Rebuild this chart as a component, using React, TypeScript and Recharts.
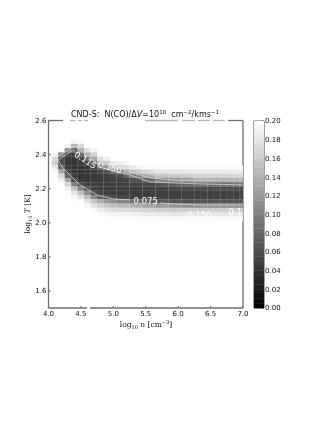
import {
  ReferenceLine,
  Scatter,
  ScatterChart,
  XAxis,
  YAxis,
} from "recharts";

const MAX_VALUE = 0.2;

const xTicks = [4, 4.5, 5, 5.5, 6, 6.5, 7];
const yTicks = [1.6, 1.8, 2.0, 2.2, 2.4, 2.6];
const barTicks = [0, 0.02, 0.04, 0.06, 0.08, 0.1, 0.12, 0.14, 0.16, 0.18, 0.2];

// log10 T of each grid row, top to bottom
const gridT = [
  2.475, 2.45, 2.425, 2.4, 2.375, 2.35, 2.325, 2.3, 2.275, 2.25, 2.225, 2.2,
  2.175, 2.15, 2.125, 2.1, 2.075, 2.05, 2.025, 2.0,
];
// log10 n of each grid column
const gridN = [
  4.1, 4.2, 4.3, 4.4, 4.5, 4.6, 4.7, 4.8, 4.9, 5.0, 5.1, 5.2, 5.3, 5.4, 5.5,
  5.6, 5.7, 5.8, 5.9, 6.0, 6.1, 6.2, 6.3, 6.4, 6.5, 6.6, 6.7, 6.8, 6.9, 7.0,
];
// one line per column, in units of 0.01, 20 is the white top of the scale
const gridValues = [
  [20, 20, 20, 19, 17, 16, 18.5, 19.5, 20, 20, 20, 20, 20, 20, 20, 20, 20, 20, 20, 20],
  [20, 20, 19.5, 10, 6, 6, 8, 13, 17, 19, 20, 20, 20, 20, 20, 20, 20, 20, 20, 20],
  [20, 19, 11, 5.5, 4.5, 4.5, 4.5, 5.5, 8, 13, 16.5, 19, 19.8, 20, 20, 20, 20, 20, 20, 20],
  [19, 14, 8, 5, 4, 4, 4, 4.2, 5, 6, 10, 15, 18, 19.5, 20, 20, 20, 20, 20, 20],
  [19.5, 17, 13, 8.5, 5.5, 4.5, 4, 4, 4, 4.5, 6, 10.5, 15, 18, 19.5, 20, 20, 20, 20, 20],
  [20, 19.8, 17.5, 14, 9, 5.5, 4.5, 4.2, 4.2, 4.2, 4.8, 6.5, 11, 15, 18, 19.5, 20, 20, 20, 20],
  [20, 20, 19, 16.5, 13, 8, 5.5, 4.6, 4.4, 4.4, 4.6, 5, 7, 11, 15.5, 18, 19.5, 20, 20, 20],
  [20, 20, 20, 19.5, 17.5, 14, 8.5, 5.5, 4.8, 4.6, 4.6, 4.8, 5.5, 8, 13.5, 16.5, 18.5, 19.6, 20, 20],
  [20, 20, 20, 20, 18.5, 16, 12, 6.5, 5, 4.8, 4.6, 4.7, 5, 6.8, 12, 15.5, 18, 19.3, 20, 20],
  [20, 20, 20, 20, 20, 18.5, 15.5, 9, 5.5, 5, 4.7, 4.7, 4.9, 6, 11, 15, 17.5, 19, 19.8, 20],
  [20, 20, 20, 20, 20, 19, 16.5, 11, 6.2, 5, 4.8, 4.8, 4.8, 5.5, 10, 14.5, 17.5, 19, 19.8, 20],
  [20, 20, 20, 20, 20, 19.5, 17.5, 13, 8, 5.5, 5, 4.8, 4.8, 5.5, 10, 14.5, 17.5, 19, 19.8, 20],
  [20, 20, 20, 20, 20, 20, 18.5, 15, 10, 6.3, 5.2, 4.8, 4.8, 5.2, 9, 14, 17.2, 18.8, 19.7, 20],
  [20, 20, 20, 20, 20, 20, 19, 16, 11, 6.5, 5.4, 4.9, 4.8, 5.1, 8.5, 13.5, 17, 18.7, 19.7, 20],
  [20, 20, 20, 20, 20, 20, 19.5, 17, 13, 8, 5.6, 5, 4.8, 5, 7.5, 13, 16.5, 18.5, 19.6, 20],
  [20, 20, 20, 20, 20, 20, 19.6, 17.3, 13.5, 8.5, 5.8, 5.2, 5, 5.1, 7.8, 13, 16.5, 18.5, 19.6, 20],
  [20, 20, 20, 20, 20, 20, 19.8, 18, 15, 10.5, 6.5, 5.2, 5, 5, 7, 12, 16, 18.2, 19.5, 20],
  [20, 20, 20, 20, 20, 20, 19.8, 18, 15, 10.5, 6.8, 5.4, 5.1, 5.1, 7.2, 12.2, 16.2, 18.3, 19.5, 20],
  [20, 20, 20, 20, 20, 20, 19.8, 18.2, 15.5, 11, 7, 5.5, 5, 5, 6.8, 11.8, 16, 18.2, 19.5, 20],
  [20, 20, 20, 20, 20, 20, 19.8, 18.2, 15.5, 11.5, 7.5, 5.5, 4.9, 5, 6.8, 11.5, 16, 18, 19.5, 20],
  [20, 20, 20, 20, 20, 20, 19.8, 18.3, 16, 12, 8, 5.7, 5, 5, 6.5, 11.2, 16, 18.1, 19.5, 20],
  [20, 20, 20, 20, 20, 20, 19.8, 18.4, 16.2, 12.5, 8.5, 5.8, 5.1, 5.1, 6.6, 11, 16, 18, 19.5, 20],
  [20, 20, 20, 20, 20, 20, 19.8, 18.5, 16.5, 13.5, 8.5, 5.8, 5, 5, 6.5, 11, 16, 18, 19.5, 20],
  [20, 20, 20, 20, 20, 20, 19.8, 18.5, 16.5, 13.5, 8.8, 6, 5.2, 5.1, 6.7, 11.2, 16, 18.1, 19.5, 20],
  [20, 20, 20, 20, 20, 20, 19.8, 18.5, 16.5, 13.5, 8.5, 5.8, 5, 5, 6.5, 11, 16, 18, 19.5, 20],
  [20, 20, 20, 20, 20, 20, 19.8, 18.6, 16.6, 13.5, 8.8, 6, 5.2, 5.2, 6.8, 11.2, 16, 18.1, 19.5, 20],
  [20, 20, 20, 20, 20, 20, 19.8, 18.6, 16.6, 13.5, 8.5, 5.8, 5, 5, 6.5, 11, 16, 18, 19.5, 20],
  [20, 20, 20, 20, 20, 20, 19.8, 18.6, 16.8, 13.5, 8.8, 6, 5.3, 5.2, 6.6, 11.2, 16, 18, 19.5, 20],
  [20, 20, 20, 20, 20, 20, 19.8, 18.6, 16.8, 13.5, 9, 6, 5.2, 5.2, 6.6, 11, 16, 18, 19.5, 20],
  [20, 20, 20, 20, 20, 20, 19.8, 18.7, 17, 14, 9.5, 6.2, 5.5, 5.5, 6.8, 11, 16, 18, 19.5, 20],
];

// contours as [log n, log T] runs, split where a label sits on them
const innerLower = [
  [4.147, 2.368], [4.224, 2.321], [4.363, 2.268], [4.486, 2.222], [4.748, 2.163],
  [4.995, 2.14], [5.257, 2.134],
];
const innerLowerRight = [
  [5.72, 2.116], [5.95, 2.11], [6.34, 2.104], [7.0, 2.104],
];
const innerUpperLeft = [[4.147, 2.368], [4.378, 2.427], [4.42, 2.41]];
const innerUpperRight = [
  [4.75, 2.33], [4.841, 2.321], [5.257, 2.28], [5.566, 2.239], [6.34, 2.228], [7.0, 2.222],
];
const outerLower = [
  [4.07, 2.351], [4.286, 2.228], [4.594, 2.128], [4.995, 2.075], [5.52, 2.063],
  [6.0, 2.066], [6.75, 2.063],
];
const outerUpperLeft = [
  [4.07, 2.351], [4.11, 2.38], [4.378, 2.444], [4.41, 2.45], [4.748, 2.351], [4.8, 2.335],
];
const outerUpperRight = [
  [5.15, 2.31], [5.257, 2.298], [5.566, 2.263], [6.0, 2.25], [7.0, 2.251],
];
const topUpper = [[5.3, 2.31], [5.566, 2.28], [6.0, 2.28], [7.0, 2.28]];
const contourRuns = [
  innerLower,
  innerLowerRight,
  innerUpperLeft,
  innerUpperRight,
  outerLower,
  outerUpperLeft,
  outerUpperRight,
  topUpper,
];

const labelText = ["0.115", "0.150", "0.075", "0.1", "0.150"];
const labelN = [4.57, 4.95, 5.5, 6.88, 6.33];
const labelT = [2.368, 2.325, 2.13, 2.063, 2.045];
const labelAngle = [33, 15, 0, 0, 0];

// pieces of the top and bottom frame that the white label boxes left standing
const topRunFrom = [4, 4.33, 4.455, 4.548, 5.489, 6.06, 6.306, 6.537, 6.77];
const topRunTo = [4.224, 4.42, 4.517, 4.609, 5.997, 6.26, 6.49, 6.72, 7];
const bottomRunFrom = [4, 4.64];
const bottomRunTo = [4.594, 7];

const barLevels = [
  0, 0.005, 0.01, 0.015, 0.02, 0.025, 0.03, 0.035, 0.04, 0.045, 0.05, 0.055,
  0.06, 0.065, 0.07, 0.075, 0.08, 0.085, 0.09, 0.095, 0.1, 0.105, 0.11, 0.115,
  0.12, 0.125, 0.13, 0.135, 0.14, 0.145, 0.15, 0.155, 0.16, 0.165, 0.17, 0.175,
  0.18, 0.185, 0.19, 0.195,
];

const heatCells = gridN.flatMap((n, col) =>
  gridT
    .map((T, row) => ({ n, T, value: gridValues[col][row] / 100 }))
    .filter((cell) => cell.value < MAX_VALUE),
);
const labelPoints = labelText.map((text, i) => ({
  n: labelN[i],
  T: labelT[i],
  text,
  angle: labelAngle[i],
}));
const barCells = barLevels.map((level) => ({
  x: 0,
  level: level + 0.0025,
  value: level + 0.0025,
}));

const FRAME = "#6e6e6e";
const FONT = "'DejaVu Sans', sans-serif";
const MATH_FONT = "'DejaVu Serif', serif";

function gray(value: number) {
  const g = Math.round((Math.min(value, MAX_VALUE) / MAX_VALUE) * 255);
  return `rgb(${g},${g},${g})`;
}

function HeatCell({ cx, cy, payload }: any) {
  return (
    <rect
      x={cx - 3.3}
      y={cy - 2.2}
      width={6.6}
      height={4.4}
      fill={gray(payload.value)}
    />
  );
}

function BarCell({ cx, cy, payload }: any) {
  return (
    <rect
      x={cx - 5}
      y={cy - 2.5}
      width={10}
      height={5}
      fill={gray(payload.value)}
    />
  );
}

function ContourLabel({ cx, cy, payload }: any) {
  return (
    <text
      x={cx}
      y={cy}
      transform={`rotate(${payload.angle} ${cx} ${cy})`}
      textAnchor="middle"
      dominantBaseline="central"
      fontFamily={FONT}
      fontSize={8.5}
      fill="#ffffff"
    >
      {payload.text}
    </text>
  );
}

const noMark = () => <g />;

export default function App() {
  const tickStyle = { fontSize: 7, fontFamily: FONT, fill: "#111" };
  return (
    <div
      style={{
        position: "absolute",
        left: 0,
        top: 0,
        width: 332,
        height: 430,
        background: "#fff",
        filter: "blur(0.3px)",
      }}
    >
      <div style={{ position: "absolute", left: 0, top: 0 }}>
        <ScatterChart
          width={332}
          height={430}
          margin={{ left: 47.5, right: 88, top: 119.5, bottom: 121 }}
        >
          <XAxis
            xAxisId="bottom"
            type="number"
            dataKey="n"
            domain={[4, 7]}
            ticks={xTicks}
            tickFormatter={(v) => v.toFixed(1)}
            height={1}
            tick={tickStyle}
            tickSize={-2}
            tickMargin={5}
            axisLine={false}
            stroke={FRAME}
            allowDataOverflow
          />
          <XAxis
            xAxisId="top"
            orientation="top"
            type="number"
            dataKey="n"
            domain={[4, 7]}
            ticks={xTicks}
            height={1}
            tick={false}
            tickSize={-2}
            axisLine={false}
            stroke={FRAME}
          />
          <YAxis
            yAxisId="left"
            type="number"
            dataKey="T"
            domain={[1.5, 2.6]}
            ticks={yTicks}
            tickFormatter={(v) => v.toFixed(1)}
            width={1}
            tick={tickStyle}
            tickSize={-2}
            tickMargin={4}
            stroke={FRAME}
            strokeWidth={1.3}
            allowDataOverflow
          />
          <YAxis
            yAxisId="right"
            orientation="right"
            type="number"
            dataKey="T"
            domain={[1.5, 2.6]}
            ticks={yTicks}
            width={1}
            tick={false}
            tickSize={-2}
            stroke={FRAME}
            strokeWidth={1.3}
          />
          <Scatter
            xAxisId="bottom"
            yAxisId="left"
            data={heatCells}
            shape={HeatCell}
            isAnimationActive={false}
          />
          {contourRuns.map((run, i) => (
            <Scatter
              key={i}
              xAxisId="bottom"
              yAxisId="left"
              data={run.map(([n, T]) => ({ n, T }))}
              line={{ stroke: "#d4d4d4", strokeWidth: 0.8 }}
              shape={noMark}
              isAnimationActive={false}
            />
          ))}
          <Scatter
            xAxisId="bottom"
            yAxisId="left"
            data={labelPoints}
            shape={ContourLabel}
            isAnimationActive={false}
          />
          {topRunFrom.map((from, i) => (
            <ReferenceLine
              key={`top${i}`}
              xAxisId="bottom"
              yAxisId="left"
              segment={[
                { x: from, y: 2.6 },
                { x: topRunTo[i], y: 2.6 },
              ]}
              stroke={FRAME}
              strokeWidth={1.3}
              strokeOpacity={i === 0 || i === topRunFrom.length - 1 ? 1 : 0.5}
            />
          ))}
          {bottomRunFrom.map((from, i) => (
            <ReferenceLine
              key={`bottom${i}`}
              xAxisId="bottom"
              yAxisId="left"
              segment={[
                { x: from, y: 1.5 },
                { x: bottomRunTo[i], y: 1.5 },
              ]}
              stroke={FRAME}
              strokeWidth={1.3}
            />
          ))}
          <text
            x={145}
            y={117}
            textAnchor="middle"
            fontFamily={FONT}
            fontSize={8}
            fill="#111"
            xmlSpace="preserve"
          >
            {"CND-S:  N(CO)/Δ"}
            <tspan fontStyle="italic">V</tspan>
            {"=10"}
            <tspan fontSize={5.5} dy={-3}>
              18
            </tspan>
            <tspan dy={3}>{"  cm"}</tspan>
            <tspan fontSize={5.5} dy={-3}>
              −2
            </tspan>
            <tspan dy={3}>/kms</tspan>
            <tspan fontSize={5.5} dy={-3}>
              −1
            </tspan>
          </text>
          <text
            x={146}
            y={327}
            textAnchor="middle"
            fontFamily={MATH_FONT}
            fontSize={7.5}
            fill="#111"
          >
            log
            <tspan fontSize={5} dy={1.5}>
              10
            </tspan>
            <tspan dy={-1.5} fontStyle="italic">
              {" n "}
            </tspan>
            [cm
            <tspan fontSize={5} dy={-3}>
              −3
            </tspan>
            <tspan dy={3}>]</tspan>
          </text>
          <text
            transform="translate(30 214) rotate(-90)"
            textAnchor="middle"
            fontFamily={MATH_FONT}
            fontSize={7.5}
            fill="#111"
          >
            log
            <tspan fontSize={5} dy={1.5}>
              10
            </tspan>
            <tspan dy={-1.5} fontStyle="italic">
              {" T "}
            </tspan>
            [K]
          </text>
        </ScatterChart>
      </div>
      <div style={{ position: "absolute", left: 253, top: 0 }}>
        <ScatterChart
          width={79}
          height={430}
          margin={{ left: 0, right: 67, top: 120, bottom: 121 }}
        >
          <XAxis
            type="number"
            dataKey="x"
            domain={[-1, 1]}
            height={1}
            tick={false}
            tickLine={false}
            stroke="#444"
          />
          <XAxis
            xAxisId="top"
            orientation="top"
            type="number"
            dataKey="x"
            domain={[-1, 1]}
            height={1}
            tick={false}
            tickLine={false}
            stroke="#444"
          />
          <YAxis
            yAxisId="left"
            type="number"
            dataKey="level"
            domain={[0, 0.2]}
            ticks={barTicks}
            width={1}
            tick={false}
            tickLine={false}
            stroke="#444"
          />
          <YAxis
            yAxisId="right"
            orientation="right"
            type="number"
            dataKey="level"
            domain={[0, 0.2]}
            ticks={barTicks}
            tickFormatter={(v) => v.toFixed(2)}
            width={1}
            tick={{ ...tickStyle, textAnchor: "start" }}
            tickSize={-2}
            tickMargin={3}
            stroke="#444"
          />
          <Scatter
            yAxisId="right"
            data={barCells}
            shape={BarCell}
            isAnimationActive={false}
          />
        </ScatterChart>
      </div>
    </div>
  );
}
